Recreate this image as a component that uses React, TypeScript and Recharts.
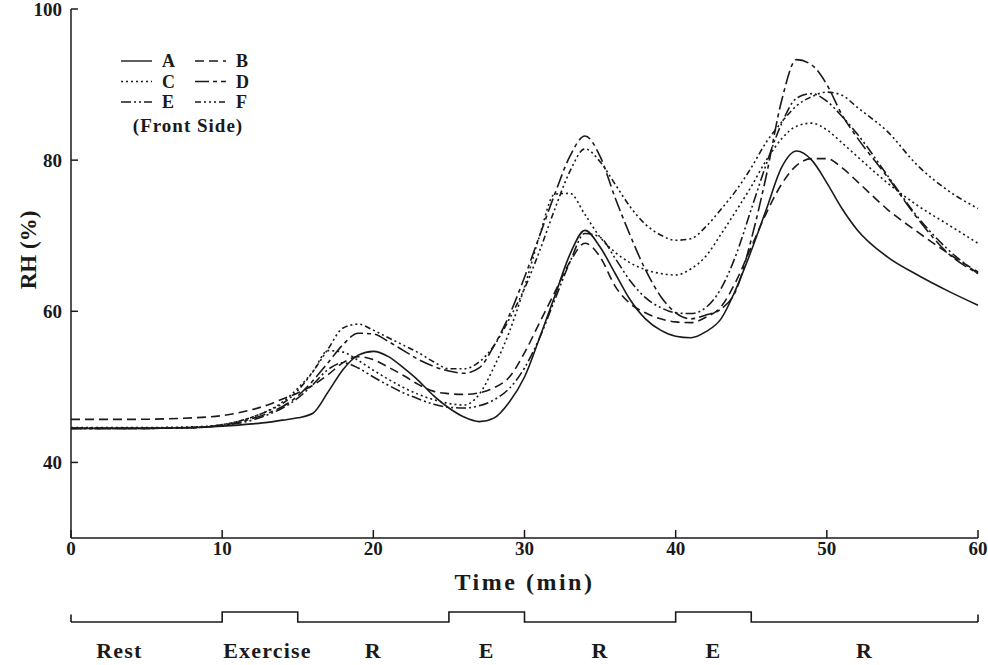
import React from 'react';
import { LineChart, Line, XAxis, YAxis, ReferenceLine } from 'recharts';

// time grid (min) shared by all six sensors
const times = [0, 4, 8, 10, 12, 13, 14, 15, 16, 17, 18, 19, 20, 21, 22, 23, 24, 25, 26, 27, 28, 29, 30, 31, 32, 33, 34, 35, 36, 37, 38, 39, 40, 41, 42, 43, 44, 45, 46, 47, 48, 49, 50, 51, 52, 54, 56, 58, 60];

// RH (%), front side
const rhA = [44.5, 44.5, 44.6, 44.8, 45.1, 45.3, 45.6, 45.9, 46.5, 49.3, 52.3, 54.2, 54.7, 54.0, 52.5, 50.8, 48.8, 47.2, 46.0, 45.4, 45.9, 48.0, 51.3, 56.5, 62.0, 67.5, 70.7, 68.5, 65.0, 61.5, 59.0, 57.5, 56.7, 56.5, 57.3, 59.0, 63.0, 68.0, 73.5, 79.0, 81.2, 80.0, 77.0, 73.6, 70.8, 67.2, 64.8, 62.7, 60.8];
const rhB = [45.7, 45.7, 45.9, 46.2, 47.0, 47.6, 48.4, 49.2, 50.2, 51.6, 53.2, 54.0, 53.6, 52.6, 51.5, 50.3, 49.4, 49.1, 49.0, 49.2, 49.9, 51.3, 54.5, 58.5, 62.5, 66.5, 69.0, 67.2, 63.3, 61.0, 59.8, 59.0, 58.6, 58.5, 59.2, 60.6, 64.0, 68.5, 73.0, 76.8, 79.3, 80.2, 80.2, 79.0, 77.2, 73.5, 70.5, 67.7, 65.2];
const rhC = [44.6, 44.6, 44.7, 45.0, 46.0, 46.8, 48.0, 49.8, 52.0, 54.8, 54.6, 53.5, 52.2, 51.0, 49.9, 49.0, 48.3, 47.8, 47.6, 49.0, 52.7, 57.3, 63.2, 70.0, 75.5, 75.6, 72.8, 69.8, 67.8, 66.4, 65.5, 65.0, 64.8, 65.6, 67.3, 70.2, 73.3, 76.5, 80.0, 82.8, 84.5, 84.9, 84.0, 82.3, 80.5, 77.0, 74.0, 71.5, 69.0];
const rhD = [44.5, 44.5, 44.6, 44.9, 45.8, 46.5, 47.4, 48.8, 50.8, 53.2, 55.6, 57.1, 57.0, 56.0, 54.8, 53.6, 52.7, 52.1, 51.8, 52.5, 55.5, 59.5, 64.5, 70.0, 75.5, 80.5, 83.2, 80.5, 75.0, 70.0, 65.5, 62.0, 59.8, 59.0, 59.5, 60.3, 62.8, 69.5, 78.0, 87.8, 93.3, 92.6, 90.0, 86.0, 83.0, 77.8, 72.3, 67.7, 65.0];
const rhE = [44.5, 44.5, 44.6, 44.9, 45.6, 46.3, 47.2, 48.5, 50.3, 52.3, 53.2, 52.5, 51.3, 50.2, 49.2, 48.4, 47.7, 47.3, 47.2, 47.5, 48.3, 49.8, 52.5, 56.5, 61.5, 66.5, 70.3, 69.8, 67.0, 64.0, 61.8, 60.5, 59.8, 59.7, 60.5, 63.0, 67.5, 73.5, 79.5, 84.8, 88.2, 88.8, 87.8, 85.8, 83.5, 78.0, 72.5, 68.2, 65.0];
const rhF = [44.5, 44.5, 44.6, 45.0, 46.0, 46.8, 47.8, 49.5, 52.0, 55.0, 57.8, 58.3, 57.5, 56.5, 55.5, 54.5, 53.3, 52.4, 52.4, 53.3, 55.5, 59.0, 63.0, 68.0, 73.5, 78.5, 81.5, 79.8, 76.8, 73.8, 71.5, 70.1, 69.4, 69.6, 71.2, 73.5, 76.0, 79.0, 82.4, 85.0, 87.2, 88.4, 89.0, 88.6, 87.0, 83.8, 79.3, 76.0, 73.6];

const seriesNames = ['A', 'B', 'C', 'D', 'E', 'F'];
const seriesValues = [rhA, rhB, rhC, rhD, rhE, rhF];
const seriesDashes = ['', '9 5', '2 3', '14 4 4 4', '10 3 2 3 2 3', '6 3 2 3 2 3 2 3'];

const xTicks = [0, 10, 20, 30, 40, 50, 60];
const yTicks = [40, 60, 80, 100];

// exercise protocol under the time axis
const phaseTimes = [0, 10, 15, 25, 30, 40, 45, 60];
const phaseLevels = [0, 1, 0, 1, 0, 1, 0, 0];
const phaseLabelTimes = [3.2, 13, 20, 27.5, 35, 42.5, 52.5];
const phaseLabels = ['Rest', 'Exercise', 'R', 'E', 'R', 'E', 'R'];

const FONT = '"Liberation Serif", "Times New Roman", serif';
const INK = '#1a1a1a';

const rows = times.map((t, i) => {
  const row: any = { t };
  seriesNames.forEach((n, k) => (row[n] = seriesValues[k][i]));
  return row;
});
const phaseRows = phaseTimes.map((t, i) => ({ t, level: phaseLevels[i] }));

const textProps = { fontFamily: FONT, fontWeight: 'bold', fill: INK } as const;

const BottomTick = ({ x, y, payload }: any) => (
  <g>
    <line x1={x} y1={y} x2={x} y2={y - 8} stroke={INK} strokeWidth={1.5} />
    <text x={x} y={y + 17} textAnchor="middle" fontSize={19} {...textProps}>
      {payload.value}
    </text>
  </g>
);
const TopTick = ({ x, y }: any) => <line x1={x} y1={y} x2={x} y2={y + 8} stroke={INK} strokeWidth={1.5} />;
const LeftTick = ({ x, y, payload }: any) => (
  <g>
    <line x1={x} y1={y} x2={x + 7} y2={y} stroke={INK} strokeWidth={1.5} />
    <text x={x - 9} y={y + 7} textAnchor="end" fontSize={19} {...textProps}>
      {payload.value}
    </text>
  </g>
);
const RightTick = ({ x, y }: any) => <line x1={x} y1={y} x2={x - 7} y2={y} stroke={INK} strokeWidth={1.5} />;
const PhaseTick = ({ x, y, index }: any) => (
  <text x={x} y={y + 36} textAnchor="middle" fontSize={22} letterSpacing={1.2} {...textProps}>
    {phaseLabels[index]}
  </text>
);

const Legend = () => (
  <svg width={300} height={150} style={{ position: 'absolute', left: 100, top: 40 }}>
    {seriesNames.map((n, i) => {
      const lx = 21 + (i % 2) * 74;
      const ly = 21 + Math.floor(i / 2) * 20.5;
      return (
        <g key={n}>
          <line x1={lx} y1={ly} x2={lx + 31} y2={ly} stroke={INK} strokeWidth={1.4} strokeDasharray={seriesDashes[i] || undefined} />
          <text x={lx + 41} y={ly + 6} fontSize={18} {...textProps}>
            {n}
          </text>
        </g>
      );
    })}
    <text x={88} y={92} textAnchor="middle" fontSize={19} letterSpacing={1} {...textProps}>
      (Front Side)
    </text>
  </svg>
);

export default function App() {
  const axisLine = { stroke: INK, strokeWidth: 1.5 };
  return (
    <div style={{ position: 'absolute', left: 0, top: 0, width: 988, height: 665, background: '#fff' }}>
      <LineChart width={988} height={600} data={rows} margin={{ top: 9, right: 10, bottom: 0, left: 0 }}>
        <XAxis
          xAxisId="b"
          dataKey="t"
          type="number"
          domain={[0, 60]}
          ticks={xTicks}
          height={62}
          tickSize={0}
          tickMargin={0}
          tickLine={false}
          axisLine={axisLine}
          tick={<BottomTick />}
          interval={0}
          label={{ value: 'Time (min)', position: 'insideBottom', offset: 10, style: { fontFamily: FONT, fontWeight: 'bold', fontSize: 24, fill: INK, letterSpacing: 2.5 } }}
        />
        <XAxis
          xAxisId="t"
          orientation="top"
          dataKey="t"
          type="number"
          domain={[0, 60]}
          ticks={[10, 20, 30, 40, 50]}
          height={0}
          tickSize={0}
          tickMargin={0}
          tickLine={false}
          axisLine={axisLine}
          tick={<TopTick />}
          interval={0}
        />
        <YAxis
          yAxisId="l"
          type="number"
          domain={[30, 100]}
          ticks={yTicks}
          width={71}
          tickSize={0}
          tickMargin={0}
          tickLine={false}
          axisLine={axisLine}
          tick={<LeftTick />}
          interval={0}
          label={{
            content: () => (
              <text x={36} y={250} transform="rotate(-90 36 250)" textAnchor="middle" fontSize={23} {...textProps}>
                RH (%)
              </text>
            ),
          }}
        />
        <YAxis
          yAxisId="r"
          orientation="right"
          type="number"
          domain={[30, 100]}
          ticks={[40, 60, 80]}
          width={0}
          tickSize={0}
          tickMargin={0}
          tickLine={false}
          axisLine={axisLine}
          tick={<RightTick />}
          interval={0}
        />
        {seriesNames.map((n, i) => (
          <Line
            key={n}
            xAxisId="b"
            yAxisId="l"
            type="monotone"
            dataKey={n}
            stroke={INK}
            strokeWidth={1.6}
            strokeDasharray={seriesDashes[i] || undefined}
            dot={false}
            isAnimationActive={false}
          />
        ))}
      </LineChart>
      <Legend />
      <div style={{ position: 'absolute', left: 0, top: 600 }}>
        <LineChart width={988} height={65} data={phaseRows} margin={{ top: 12, right: 10, bottom: 0, left: 71 }}>
          <XAxis
            dataKey="t"
            type="number"
            domain={[0, 60]}
            ticks={phaseLabelTimes}
            height={43}
            tickSize={0}
            tickMargin={0}
            axisLine={false}
            tickLine={false}
            tick={<PhaseTick />}
            interval={0}
          />
          <YAxis hide domain={[0, 1]} />
          <Line type="stepAfter" dataKey="level" stroke={INK} strokeWidth={1.6} dot={false} isAnimationActive={false} />
          <ReferenceLine segment={[{ x: 0, y: 0 }, { x: 0, y: 0.75 }]} stroke={INK} strokeWidth={1.6} />
          <ReferenceLine segment={[{ x: 60, y: 0 }, { x: 60, y: 0.75 }]} stroke={INK} strokeWidth={1.6} />
        </LineChart>
      </div>
    </div>
  );
}
